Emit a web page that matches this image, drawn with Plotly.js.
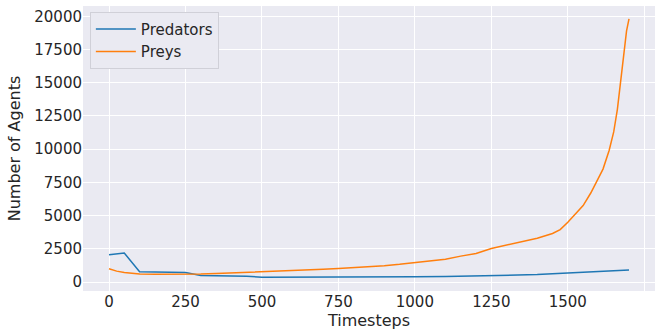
<!DOCTYPE html>
<html>
<head>
<meta charset="utf-8">
<script src="https://cdn.plot.ly/plotly-3.0.1.min.js"></script>
<style>html,body{margin:0;padding:0;background:#fff}</style>
</head>
<body>
<div id="chart" style="width:663px;height:331px"></div>
<script>
const predX = [0, 50, 100, 150, 200, 250, 300, 350, 400, 450, 500, 600, 700, 800, 900, 1000, 1100, 1200, 1300, 1400, 1500, 1600, 1700];
const predY = [2050, 2180, 780, 750, 720, 720, 500, 480, 460, 440, 360, 360, 340, 350, 360, 390, 420, 460, 500, 560, 680, 790, 900];
const preyX = [0, 25, 50, 75, 100, 150, 200, 250, 300, 350, 400, 450, 500, 550, 600, 650, 700, 750, 800, 850, 900, 950, 1000, 1050, 1100, 1150, 1200, 1250, 1300, 1350, 1400, 1450, 1475, 1500, 1525, 1550, 1575, 1600, 1615, 1635, 1650, 1662, 1673, 1684, 1692, 1700];
const preyY = [1000, 820, 720, 650, 600, 580, 580, 580, 600, 640, 680, 720, 780, 820, 870, 920, 970, 1020, 1080, 1150, 1230, 1330, 1450, 1580, 1720, 1950, 2150, 2530, 2800, 3020, 3300, 3650, 3950, 4500, 5100, 5750, 6700, 7800, 8500, 9900, 11300, 13000, 15000, 17400, 18900, 19800];
const seriesNames = ["Predators", "Preys"];
const xTicks = [0, 250, 500, 750, 1000, 1250, 1500, 1750];
const yTicks = [0, 2500, 5000, 7500, 10000, 12500, 15000, 17500, 20000];

const font = {family: "DejaVu Sans", size: 15, color: "#262626"};
const data = [
  {x: predX, y: predY, name: seriesNames[0], type: "scatter", mode: "lines", line: {color: "#1f77b4", width: 1.5}},
  {x: preyX, y: preyY, name: seriesNames[1], type: "scatter", mode: "lines", line: {color: "#ff7f0e", width: 1.5}}
];
const layout = {
  width: 663, height: 331,
  margin: {l: 83, r: 8, t: 6, b: 40, pad: 0},
  paper_bgcolor: "#ffffff",
  plot_bgcolor: "#EAEAF2",
  font: font,
  showlegend: true,
  legend: {x: 0.012, y: 0.98, xanchor: "left", yanchor: "top", bgcolor: "#EAEAF2", bordercolor: "#d0d0d8", borderwidth: 1, itemwidth: 40, font: {family: "DejaVu Sans", size: 15, color: "#262626"}, tracegroupgap: 0},
  xaxis: {
    range: [-85, 1785], tickvals: xTicks, ticktext: xTicks.map(String),
    showgrid: true, gridcolor: "#ffffff", gridwidth: 1, zeroline: false, showline: false,
    ticks: "", ticklen: 0, automargin: false,
    title: {text: "Timesteps", font: {family: "DejaVu Sans", size: 16, color: "#262626"}, standoff: 2},
    tickfont: font
  },
  yaxis: {
    range: [-675, 20775], tickvals: yTicks, ticktext: yTicks.map(String),
    showgrid: true, gridcolor: "#ffffff", gridwidth: 1, zeroline: false, showline: false,
    ticks: "", ticklen: 0, automargin: false,
    title: {text: "Number of Agents", font: {family: "DejaVu Sans", size: 16, color: "#262626"}, standoff: 9},
    tickfont: font
  }
};
Plotly.newPlot("chart", data, layout, {displayModeBar: false, staticPlot: true});
</script>
</body>
</html>
